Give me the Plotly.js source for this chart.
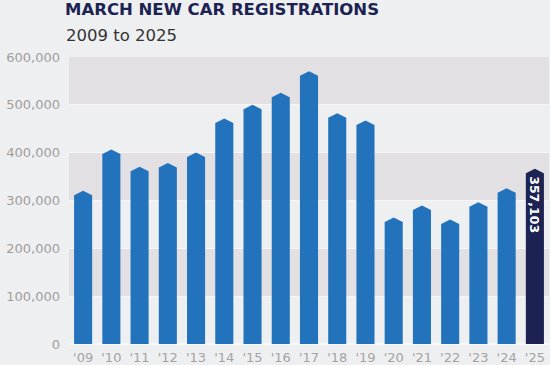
<!DOCTYPE html>
<html>
<head>
<meta charset="utf-8">
<script src="https://cdn.plot.ly/plotly-3.0.1.min.js"></script>
<style>html,body{margin:0;padding:0;background:#eeeff1;}#chart{width:550px;height:365px;}</style>
</head>
<body>
<div id="chart"></div>
<script>
var years = ["'09","'10","'11","'12","'13","'14","'15","'16","'17","'18","'19","'20","'21","'22","'23","'24","'25"];
var registrations = [311000, 397000, 361000, 369000, 391000, 462000, 491000, 516000, 561000, 473000, 458000, 255000, 280000, 251000, 287000, 316000, 357103];
var yTickVals = [0, 100000, 200000, 300000, 400000, 500000, 600000];
var yTickText = ["0", "100,000", "200,000", "300,000", "400,000", "500,000", "600,000"];
var titleText = "MARCH NEW CAR REGISTRATIONS";
var subtitleText = "2009 to 2025";

var blue = "#2272bc", navy = "#1c2352";
var last = registrations.length - 1;
var colors = registrations.map(function(v, i){ return i === last ? navy : blue; });
var labels = registrations.map(function(v, i){ return i === last ? v.toLocaleString("en-US") : ""; });

var bars = {
  type: "bar", x: years, y: registrations,
  marker: {color: colors, line: {width: 0}},
  text: labels, textposition: "inside", insidetextanchor: "end", textangle: 90,
  constraintext: "none",
  insidetextfont: {family: "DejaVu Sans", size: 12.5, color: "#ffffff", weight: "bold"},
  hoverinfo: "skip", cliponaxis: false
};
var tips = {
  type: "scatter", mode: "markers", x: years, y: registrations,
  marker: {symbol: "diamond-wide", size: 12.8, color: colors, line: {width: 0}},
  hoverinfo: "skip", cliponaxis: false
};

var shapes = [];
for (var i = 0; i < yTickVals.length - 1; i++) {
  if (i % 2 === 1) {
    shapes.push({type: "rect", xref: "paper", yref: "y", x0: 0, x1: 1, y0: yTickVals[i], y1: yTickVals[i+1],
      fillcolor: "#e2e0e2", line: {width: 0}, layer: "below"});
  }
}

var layout = {
  width: 550, height: 365,
  margin: {l: 69, r: 1, t: 57, b: 21},
  paper_bgcolor: "#eeeff1", plot_bgcolor: "rgba(0,0,0,0)",
  showlegend: false, hovermode: false, bargap: 0.36,
  title: {text: "<b>" + titleText + "</b>", xref: "container", yref: "container", x: 65/550, xanchor: "left",
    y: 1 - 9/365, yanchor: "middle",
    font: {family: "DejaVu Sans", size: 16.5, color: navy, weight: 900}},
  annotations: [{text: subtitleText, xref: "paper", yref: "paper", x: (64-69)/480, y: (344-36)/287,
    xanchor: "left", yanchor: "middle", showarrow: false,
    font: {family: "DejaVu Sans", size: 16.5, color: "#333333"}}],
  xaxis: {type: "category", range: [-0.5, years.length - 0.5], showgrid: false, zeroline: false, showline: false, ticks: "",
    tickfont: {family: "DejaVu Sans", size: 13, color: "#a3a3a3"}, ticklabelstandoff: 4, fixedrange: true},
  yaxis: {range: [0, 600000], tickvals: yTickVals, ticktext: yTickText, showgrid: true,
    gridcolor: "#f6f6f7", gridwidth: 1, zeroline: true, zerolinecolor: "#f8f8f9", zerolinewidth: 1.5,
    showline: false, ticks: "", ticklabelstandoff: 8,
    tickfont: {family: "DejaVu Sans", size: 13, color: "#9e9e9e"}, fixedrange: true},
  shapes: shapes
};

Plotly.newPlot("chart", [bars, tips], layout, {displayModeBar: false, staticPlot: true});
</script>
</body>
</html>
